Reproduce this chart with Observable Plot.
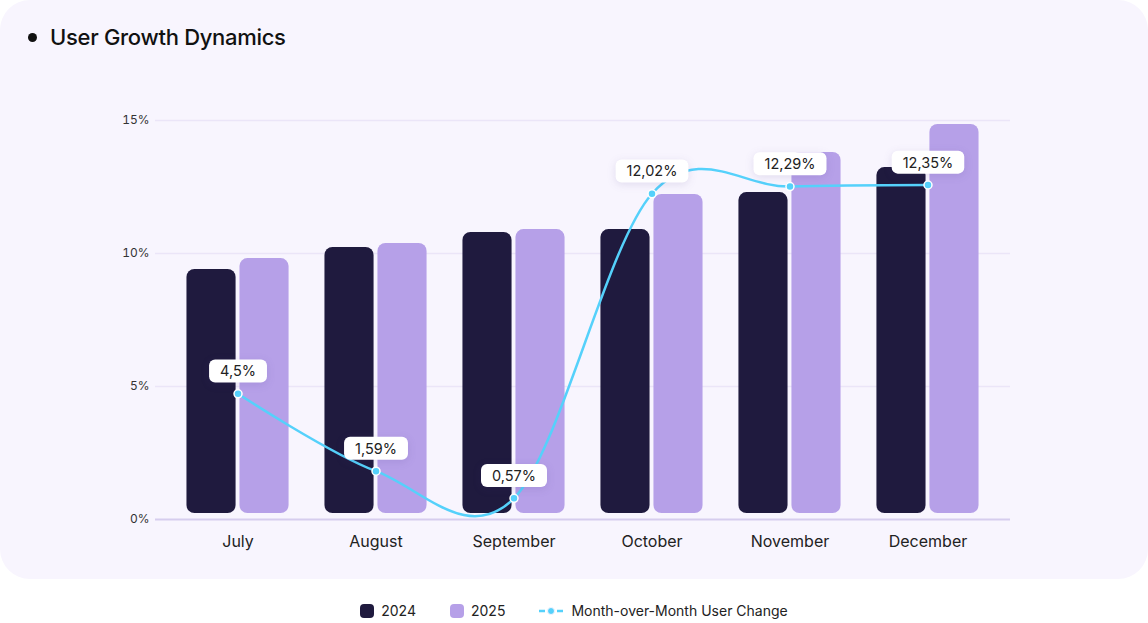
<!DOCTYPE html>
<html><head><meta charset="utf-8">
<script src="https://cdn.jsdelivr.net/npm/d3@7"></script>
<script src="https://cdn.jsdelivr.net/npm/@observablehq/plot@0.6"></script>
<style>
body{margin:0;background:#fff;font-family:Inter,"Noto Sans",sans-serif;}
#wrap{position:relative;width:1148px;height:623px;overflow:hidden;background:#fff}
#card{position:absolute;left:0;top:0;width:1148px;height:579px;background:#f8f5fe;border-radius:30px}
#title{position:absolute;left:28px;top:24px;font-size:22px;font-weight:500;color:#111;letter-spacing:-0.3px;display:flex;align-items:center}
#title .dot{width:9px;height:9px;border-radius:50%;background:#111;margin-right:13px;margin-left:0px}
#chart{position:absolute;left:0;top:0}
#legend{position:absolute;top:602px;left:0;width:1148px;display:flex;justify-content:center;align-items:center;font-size:14px;color:#222}
#legend .item{display:flex;align-items:center;margin:0 17px}
#legend .sw{width:14px;height:14px;border-radius:4px;margin-right:7px}
#legend svg{margin-right:8px}
</style></head>
<body>
<div id="wrap">
  <div id="card"></div>
  <div id="title"><span class="dot"></span>User Growth Dynamics</div>
  <div id="chart"></div>
  <div id="legend"></div>
</div>
<script>
const months = ["July","August","September","October","November","December"];
const values2024 = [9.4, 10.23, 10.79, 10.9, 12.29, 13.23];
const values2025 = [9.81, 10.38, 10.9, 12.22, 13.8, 14.85];
const momChange = [4.5, 1.59, 0.57, 12.02, 12.29, 12.35];
const momLabels = ["4,5%","1,59%","0,57%","12,02%","12,29%","12,35%"];
const yTicks = [0, 5, 10, 15];

const colors = {y2024: "#1f1a3e", y2025: "#b6a0e8", line: "#55d1fb"};

const bars24 = months.map((m, i) => ({month: m, value: values2024[i]}));
const bars25 = months.map((m, i) => ({month: m, value: values2025[i]}));
const mom = months.map((m, i) => ({month: m, value: momChange[i], label: momLabels[i]}));

const plot = Plot.plot({
  width: 1148,
  height: 579,
  marginTop: 120,
  marginBottom: 60,
  marginLeft: 155,
  marginRight: 138,
  style: {background: "transparent", fontFamily: "Inter, sans-serif", color: "#333"},
  x: {domain: months, paddingInner: 0.26, paddingOuter: 0.228, round: false, label: null},
  y: {domain: [0, 15], label: null},
  marks: [
    Plot.ruleY(yTicks.filter(d => d > 0), {stroke: "#ebe5f8", strokeWidth: 1.5}),
    Plot.ruleY([0], {stroke: "#d6cdee", strokeWidth: 2}),
    Plot.axisY({ticks: yTicks, tickSize: 0, tickPadding: 6, fontSize: 12, tickFormat: d => d + "%", fill: "#333"}),
    Plot.axisX({tickSize: 0, tickPadding: 16, fontSize: 16, fill: "#222"}),
    Plot.barY(bars24, {x: "month", y: "value", fill: colors.y2024, insetRight: 53, insetBottom: 6, rx: 8}),
    Plot.barY(bars25, {x: "month", y: "value", fill: colors.y2025, insetLeft: 53, insetBottom: 6, rx: 8}),
    Plot.line(mom, {x: "month", y: "value", stroke: colors.line, strokeWidth: 2.5, curve: "cardinal", dy: -6}),
    Plot.dot(mom, {x: "month", y: "value", fill: colors.line, stroke: "#fff", strokeWidth: 1.5, r: 4, dy: -6}),
    Plot.text(mom, {x: "month", y: "value", text: "label", dy: -28, fontSize: 14.5, fill: "#222", className: "lbl"})
  ]
});
document.getElementById("chart").appendChild(plot);

// white label boxes behind label texts
const svg = d3.select(plot);
svg.selectAll("g.lbl text, .lbl text").each(function() {
  const bb = this.getBBox();
  const padX = 11, h = 23;
  const cy = bb.y + bb.height / 2;
  const parent = this.parentNode;
  const rect = document.createElementNS("http://www.w3.org/2000/svg", "rect");
  rect.setAttribute("x", bb.x - padX);
  rect.setAttribute("y", cy - h / 2);
  rect.setAttribute("width", bb.width + 2 * padX);
  rect.setAttribute("height", h);
  rect.setAttribute("rx", 6);
  rect.setAttribute("fill", "#fff");
  rect.setAttribute("transform", this.getAttribute("transform") || "");
  rect.style.filter = "drop-shadow(0px 2px 4px rgba(60,40,120,0.12))";
  parent.insertBefore(rect, this);
});

// legend
const legend = d3.select("#legend");
const i1 = legend.append("div").attr("class", "item");
i1.append("div").attr("class", "sw").style("background", colors.y2024);
i1.append("span").text("2024");
const i2 = legend.append("div").attr("class", "item");
i2.append("div").attr("class", "sw").style("background", colors.y2025);
i2.append("span").text("2025");
const i3 = legend.append("div").attr("class", "item");
const ls = i3.append("svg").attr("width", 24).attr("height", 10);
ls.append("line").attr("x1", 0).attr("x2", 24).attr("y1", 5).attr("y2", 5)
  .attr("stroke", colors.line).attr("stroke-width", 2.5).attr("stroke-dasharray", "6 3");
ls.append("circle").attr("cx", 12).attr("cy", 5).attr("r", 3.5).attr("fill", colors.line).attr("stroke", "#f8f5fe").attr("stroke-width", 1);
i3.append("span").text("Month-over-Month User Change");
</script>
</body></html>
